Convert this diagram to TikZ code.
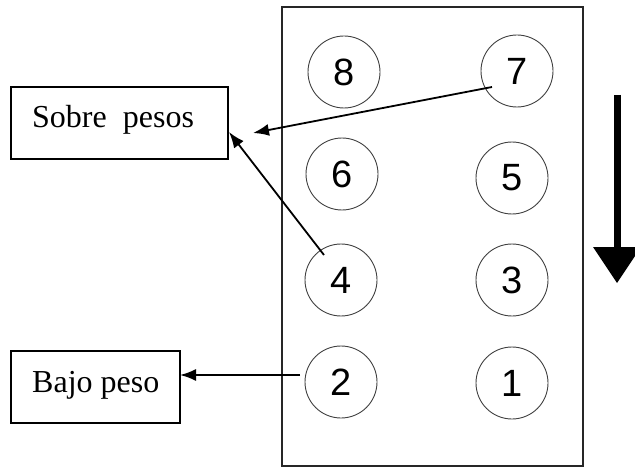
\documentclass[tikz,border=0pt]{standalone}
\usepackage{fontspec}
\setmainfont{Liberation Serif}
\newfontfamily\digitfont{Liberation Sans}
\usetikzlibrary{arrows.meta}
\tikzset{
  ball/.style={circle, draw=black!75, line width=0.9pt, minimum size=72pt, inner sep=0pt,
               font=\digitfont\fontsize{38}{40}\selectfont},
  labelbox/.style={draw, line width=1.7pt, inner sep=0pt},
  conn/.style={line width=1.8pt, -{Latex[length=16pt,width=12pt]}},
}
\begin{document}
\begin{tikzpicture}[x=1pt, y=-1pt]
\useasboundingbox (0,0) rectangle (635,468);
\clip (0,0) rectangle (635,468);
% tray
\draw[line width=1.5pt, draw=black!85] (282,7) rectangle (583,466);
% balls
\node[ball] (c8) at (344,72) {8};
\node[ball] (c7) at (517,71) {7};
\node[ball] (c6) at (342,174) {6};
\node[ball] (c5) at (512,178) {5};
\node[ball] (c4) at (341,280) {4};
\node[ball] (c3) at (512,280) {3};
\node[ball] (c2) at (341,382) {2};
\node[ball] (c1) at (512,383) {1};
% label boxes
\draw[labelbox] (11,87) rectangle (228,159);
\node[anchor=base west, inner sep=0pt, font=\fontsize{32}{36}\selectfont] (sobre) at (32,128) {Sobre\ \ pesos};
\draw[labelbox] (11,351) rectangle (180,423);
\node[anchor=base west, inner sep=0pt, font=\fontsize{32}{36}\selectfont] (bajo) at (32,392) {Bajo peso};
% connector ends
\coordinate (s7) at (492,87);
\coordinate (t7) at (253,133);
\coordinate (s4) at (324,255);
\coordinate (t4) at (229,132);
\coordinate (s2) at (300,375);
\coordinate (t2) at (180,375);
\draw[conn] (s7) -- (t7);
\draw[conn] (s4) -- (t4);
\draw[conn] (s2) -- (t2);
% big down arrow
\coordinate (ba) at (617,95);
\coordinate (bb) at (617,250);
\draw[line width=7pt] (ba) -- (bb);
\fill (593,247) -- (641,247) -- (617,283) -- cycle;
\end{tikzpicture}
\end{document}
